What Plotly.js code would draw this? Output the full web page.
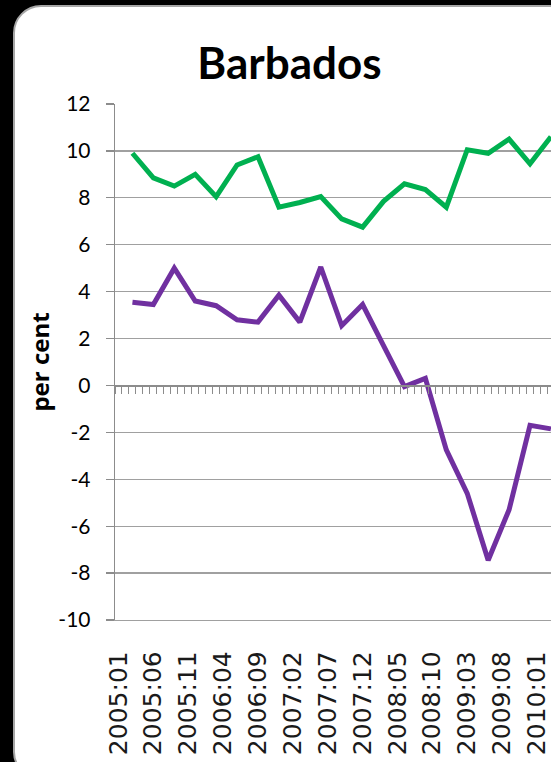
<!DOCTYPE html>
<html>
<head>
<meta charset="utf-8">
<script src="https://cdn.plot.ly/plotly-3.0.1.min.js"></script>
<style>
  html, body { margin:0; padding:0; width:551px; height:762px; overflow:hidden; background:#000; }
  #panel { position:absolute; left:13px; top:5px; width:565px; height:775px; background:#fff;
           border:2px solid #a6a6a6; border-radius:28px; box-sizing:border-box; }
  #chart { position:absolute; left:0; top:0; width:600px; height:762px; }
</style>
</head>
<body>
<div id="panel"></div>
<div id="chart"></div>
<script>
// Quarterly observation dates (year:month)
const quarters = ["2005:03","2005:06","2005:09","2005:12",
                  "2006:03","2006:06","2006:09","2006:12",
                  "2007:03","2007:06","2007:09","2007:12",
                  "2008:03","2008:06","2008:09","2008:12",
                  "2009:03","2009:06","2009:09","2009:12",
                  "2010:03"];
// Green series (per cent)
const greenSeries = [9.9, 8.85, 8.5, 9.0, 8.05, 9.4, 9.75, 7.6, 7.8, 8.05, 7.1, 6.75,
                     7.85, 8.6, 8.35, 7.6, 10.05, 9.9, 10.5, 9.45, 10.6];
// Purple series (per cent)
const purpleSeries = [3.55, 3.45, 5.0, 3.6, 3.4, 2.8, 2.7, 3.85, 2.7, 5.05, 2.55, 3.45,
                      1.7, -0.05, 0.3, -2.75, -4.6, -7.45, -5.3, -1.7, -1.85];
// Tick labels shown on the category axis (every fifth month)
const tickLabels = ["2005:01","2005:06","2005:11","2006:04","2006:09","2007:02","2007:07",
                    "2007:12","2008:05","2008:10","2009:03","2009:08","2010:01"];
// Value-axis ticks and their labels (hyphen minus, as in the original)
const yTickVals = [-10, -8, -6, -4, -2, 0, 2, 4, 6, 8, 10, 12];
const yTickText = ["-10", "-8", "-6", "-4", "-2", "0", "2", "4", "6", "8", "10", "12"];

// Monthly category axis 2005:01 ... 2010:12
const months = [];
for (let y = 2005; y <= 2010; y++) {
  for (let m = 1; m <= 12; m++) months.push(y + ":" + (m < 10 ? "0" + m : m));
}

const traces = [
  { x: quarters, y: greenSeries, type: "scatter", mode: "lines", name: "Series 1",
    line: { color: "#00b050", width: 5 } },
  { x: quarters, y: purpleSeries, type: "scatter", mode: "lines", name: "Series 2",
    line: { color: "#7030a0", width: 5 } },
  // empty carrier so the zero-crossing category axis (xaxis2) is drawn
  { x: [], y: [], type: "scatter", mode: "lines", xaxis: "x2", yaxis: "y",
    hoverinfo: "skip", showlegend: false }
];

const W = 600, H = 762;
const plotL = 115, plotR = 559.7, plotT = 104, plotB = 620;
const yMin = -10, yMax = 12;
const zeroFrac = (0 - yMin) / (yMax - yMin);

const layout = {
  width: W, height: H,
  paper_bgcolor: "rgba(0,0,0,0)", plot_bgcolor: "rgba(0,0,0,0)",
  showlegend: false,
  margin: { l: plotL, r: W - plotR, t: plotT, b: H - plotB, pad: 0 },
  title: { text: "Barbados", font: { family: "Lato", size: 44, weight: 700, color: "#000" },
           xref: "container", x: 289.5 / W, xanchor: "center",
           yref: "container", y: 1 - 63.5 / H, yanchor: "middle" },
  xaxis: { type: "category", categoryorder: "array", categoryarray: months,
           range: [-0.5, 63.3], tickmode: "array", tickvals: tickLabels, ticktext: tickLabels,
           tickangle: -90, ticks: "", showgrid: false, zeroline: false,
           showline: true, linecolor: "#a0a0a0", linewidth: 1.3,
           tickfont: { family: "DejaVu Sans", size: 25, color: "#1a1a1a" },
           ticklabelstandoff: 20 },
  xaxis2: { overlaying: "x", anchor: "free", position: zeroFrac, side: "bottom",
            type: "linear", range: [-0.5, 63.3], tick0: -0.5, dtick: 1,
            ticks: "outside", ticklen: 7, tickwidth: 1, tickcolor: "#8c8c8c",
            showticklabels: false, showgrid: false, zeroline: false,
            showline: true, linecolor: "#8c8c8c", linewidth: 1.3 },
  yaxis: { range: [yMin, yMax], tickmode: "array", tickvals: yTickVals, ticktext: yTickText,
           showgrid: true, gridcolor: "#a0a0a0", gridwidth: 1.3,
           showline: true, linecolor: "#8c8c8c", linewidth: 1.3, zeroline: false,
           ticks: "outside", ticklen: 8, tickcolor: "#8c8c8c", tickwidth: 1.3,
           tickfont: { family: "Lato", size: 21, color: "#000" },
           ticklabelstandoff: 11,
           title: { text: "per cent", font: { family: "Open Sans", size: 24, weight: 700, color: "#000" },
                    standoff: 2 } }
};

Plotly.newPlot("chart", traces, layout, { staticPlot: true });
</script>
</body>
</html>
